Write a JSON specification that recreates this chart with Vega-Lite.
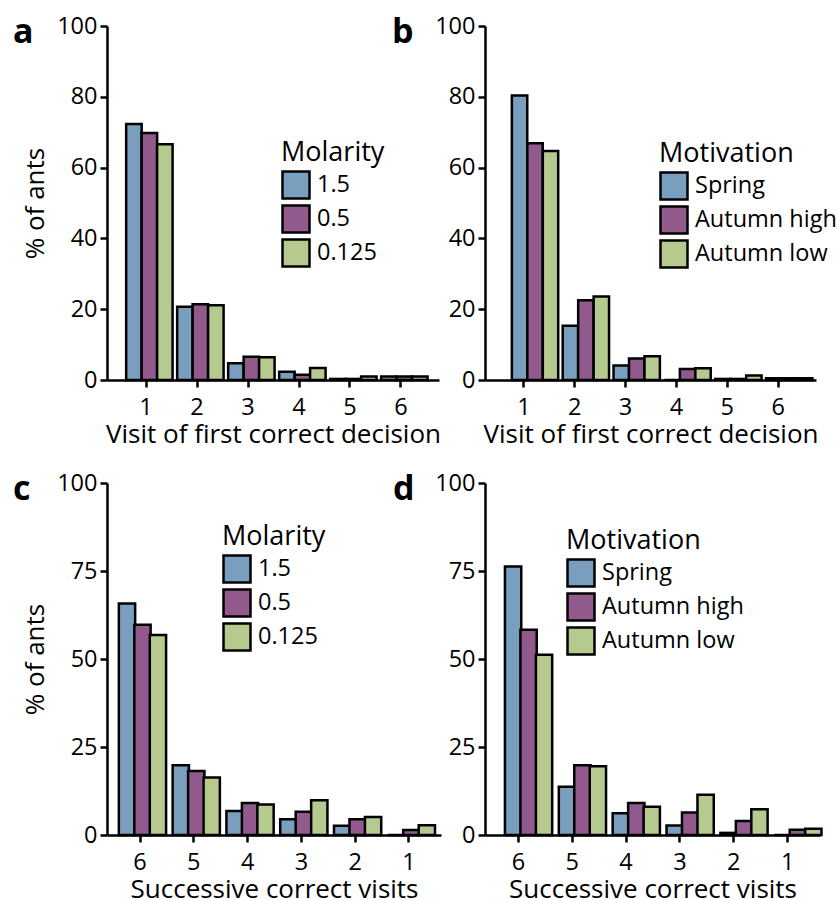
{
  "$schema": "https://vega.github.io/schema/vega-lite/v6.json",
  "background": "white",
  "padding": {"left": 13, "top": 14, "right": 0, "bottom": 0},
  "config": {
    "font": "Open Sans",
    "view": {"stroke": null},
    "axis": {
      "domainColor": "black", "domainWidth": 2.5, "tickColor": "black", "tickWidth": 2.5, "tickSize": 7,
      "labelColor": "black", "labelFontSize": 23.5, "labelFont": "Open Sans",
      "titleColor": "black", "titleFontSize": 26, "titleFontWeight": "normal", "titleFont": "Open Sans",
      "grid": false
    },
    "axisX": {"labelPadding": 8, "titlePadding": 3},
    "axisY": {"labelPadding": 3, "titlePadding": 8},
    "legend": {
      "titleFontSize": 27, "titleFontWeight": "normal", "titleColor": "black", "titleFont": "Open Sans",
      "labelFontSize": 23.5, "labelColor": "black", "labelFont": "Open Sans",
      "symbolType": "square", "symbolSize": 729, "symbolStrokeColor": "black", "symbolStrokeWidth": 2.5,
      "symbolOpacity": 1, "labelOffset": 6, "titlePadding": 3, "padding": 0
    },
    "title": {"fontSize": 34, "fontWeight": "bold", "color": "black", "font": "Open Sans"}
  },
  "columns": 2,
  "spacing": {"row": 103, "column": 44},
  "bounds": "flush",
  "resolve": {"scale": {"color": "independent"}},
  "concat": [
    {
      "width": 332, "height": 354,
      "title": {"text": "a", "anchor": "start", "frame": "group", "align": "left", "dx": -94, "dy": 40},
      "data": {"values": [
        {"visit": "1", "group": "1.5", "pct": 72.3}, {"visit": "1", "group": "0.5", "pct": 69.8}, {"visit": "1", "group": "0.125", "pct": 66.6},
        {"visit": "2", "group": "1.5", "pct": 20.7}, {"visit": "2", "group": "0.5", "pct": 21.4}, {"visit": "2", "group": "0.125", "pct": 21.1},
        {"visit": "3", "group": "1.5", "pct": 4.7}, {"visit": "3", "group": "0.5", "pct": 6.6}, {"visit": "3", "group": "0.125", "pct": 6.4},
        {"visit": "4", "group": "1.5", "pct": 2.3}, {"visit": "4", "group": "0.5", "pct": 1.5}, {"visit": "4", "group": "0.125", "pct": 3.4},
        {"visit": "5", "group": "1.5", "pct": 0.3}, {"visit": "5", "group": "0.5", "pct": 0.3}, {"visit": "5", "group": "0.125", "pct": 1.0},
        {"visit": "6", "group": "1.5", "pct": 1.0}, {"visit": "6", "group": "0.5", "pct": 1.0}, {"visit": "6", "group": "0.125", "pct": 1.0}
      ]},
      "mark": {"type": "bar", "stroke": "black", "strokeWidth": 2.5, "width": 15.5},
      "encoding": {
        "x": {"field": "visit", "type": "ordinal", "sort": ["1", "2", "3", "4", "5", "6"],
              "scale": {"paddingInner": 0.09, "paddingOuter": 0.3, "align": 0.753},
              "axis": {"labelAngle": 0, "title": "Visit of first correct decision", "tickOffset": -7.74}},
        "xOffset": {"field": "group", "type": "nominal", "sort": ["1.5", "0.5", "0.125"], "scale": {"paddingInner": 0, "paddingOuter": 0}},
        "y": {"field": "pct", "type": "quantitative", "scale": {"domain": [0, 100]},
              "axis": {"values": [0, 20, 40, 60, 80, 100], "title": "% of ants"}},
        "color": {"field": "group", "type": "nominal", "sort": ["1.5", "0.5", "0.125"],
                  "scale": {"domain": ["1.5", "0.5", "0.125"], "range": ["#7a9ebd", "#925a8c", "#b6c98f"]},
                  "legend": {"orient": "none", "legendX": 174, "legendY": 114, "title": "Molarity", "rowPadding": -13}}
      }
    },
    {
      "width": 331, "height": 354,
      "title": {"text": "b", "anchor": "start", "frame": "group", "align": "left", "dx": -93, "dy": 40},
      "data": {"values": [
        {"visit": "1", "group": "Spring", "pct": 80.4}, {"visit": "1", "group": "Autumn high", "pct": 66.9}, {"visit": "1", "group": "Autumn low", "pct": 64.7},
        {"visit": "2", "group": "Spring", "pct": 15.3}, {"visit": "2", "group": "Autumn high", "pct": 22.5}, {"visit": "2", "group": "Autumn low", "pct": 23.6},
        {"visit": "3", "group": "Spring", "pct": 4.1}, {"visit": "3", "group": "Autumn high", "pct": 6.1}, {"visit": "3", "group": "Autumn low", "pct": 6.7},
        {"visit": "4", "group": "Spring", "pct": 0}, {"visit": "4", "group": "Autumn high", "pct": 3.1}, {"visit": "4", "group": "Autumn low", "pct": 3.3},
        {"visit": "5", "group": "Spring", "pct": 0.3}, {"visit": "5", "group": "Autumn high", "pct": 0.3}, {"visit": "5", "group": "Autumn low", "pct": 1.3},
        {"visit": "6", "group": "Spring", "pct": 0.5}, {"visit": "6", "group": "Autumn high", "pct": 0.5}, {"visit": "6", "group": "Autumn low", "pct": 0.5}
      ]},
      "mark": {"type": "bar", "stroke": "black", "strokeWidth": 2.5, "width": 15.4},
      "encoding": {
        "x": {"field": "visit", "type": "ordinal", "sort": ["1", "2", "3", "4", "5", "6"],
              "scale": {"paddingInner": 0.09, "paddingOuter": 0.3, "align": 0.7525},
              "axis": {"labelAngle": 0, "title": "Visit of first correct decision", "tickOffset": -7.7}},
        "xOffset": {"field": "group", "type": "nominal", "sort": ["Spring", "Autumn high", "Autumn low"], "scale": {"paddingInner": 0, "paddingOuter": 0}},
        "y": {"field": "pct", "type": "quantitative", "scale": {"domain": [0, 100]},
              "axis": {"values": [0, 20, 40, 60, 80, 100], "title": null}},
        "color": {"field": "group", "type": "nominal", "sort": ["Spring", "Autumn high", "Autumn low"],
                  "scale": {"domain": ["Spring", "Autumn high", "Autumn low"], "range": ["#7a9ebd", "#925a8c", "#b6c98f"]},
                  "legend": {"orient": "none", "legendX": 174, "legendY": 115, "title": "Motivation", "rowPadding": -13}}
      }
    },
    {
      "width": 334, "height": 352,
      "title": {"text": "c", "anchor": "start", "frame": "group", "align": "left", "dx": -94, "dy": 40},
      "data": {"values": [
        {"visit": "6", "group": "1.5", "pct": 65.8}, {"visit": "6", "group": "0.5", "pct": 59.7}, {"visit": "6", "group": "0.125", "pct": 56.8},
        {"visit": "5", "group": "1.5", "pct": 19.8}, {"visit": "5", "group": "0.5", "pct": 18.2}, {"visit": "5", "group": "0.125", "pct": 16.3},
        {"visit": "4", "group": "1.5", "pct": 6.8}, {"visit": "4", "group": "0.5", "pct": 9.1}, {"visit": "4", "group": "0.125", "pct": 8.7},
        {"visit": "3", "group": "1.5", "pct": 4.5}, {"visit": "3", "group": "0.5", "pct": 6.6}, {"visit": "3", "group": "0.125", "pct": 9.9},
        {"visit": "2", "group": "1.5", "pct": 2.6}, {"visit": "2", "group": "0.5", "pct": 4.5}, {"visit": "2", "group": "0.125", "pct": 5.1},
        {"visit": "1", "group": "1.5", "pct": 0}, {"visit": "1", "group": "0.5", "pct": 1.4}, {"visit": "1", "group": "0.125", "pct": 2.8}
      ]},
      "mark": {"type": "bar", "stroke": "black", "strokeWidth": 2.5, "width": 16.3},
      "encoding": {
        "x": {"field": "visit", "type": "ordinal", "sort": ["6", "5", "4", "3", "2", "1"],
              "scale": {"paddingInner": 0.09, "paddingOuter": 0.15, "align": 1},
              "axis": {"labelAngle": 0, "title": "Successive correct visits", "tickOffset": -8.07}},
        "xOffset": {"field": "group", "type": "nominal", "sort": ["1.5", "0.5", "0.125"], "scale": {"paddingInner": 0, "paddingOuter": 0}},
        "y": {"field": "pct", "type": "quantitative", "scale": {"domain": [0, 100]},
              "axis": {"values": [0, 25, 50, 75, 100], "title": "% of ants"}},
        "color": {"field": "group", "type": "nominal", "sort": ["1.5", "0.5", "0.125"],
                  "scale": {"domain": ["1.5", "0.5", "0.125"], "range": ["#7a9ebd", "#925a8c", "#b6c98f"]},
                  "legend": {"orient": "none", "legendX": 115, "legendY": 41, "title": "Molarity", "rowPadding": -13}}
      }
    },
    {
      "width": 335, "height": 352,
      "title": {"text": "d", "anchor": "start", "frame": "group", "align": "left", "dx": -92, "dy": 40},
      "data": {"values": [
        {"visit": "6", "group": "Spring", "pct": 76.3}, {"visit": "6", "group": "Autumn high", "pct": 58.3}, {"visit": "6", "group": "Autumn low", "pct": 51.2},
        {"visit": "5", "group": "Spring", "pct": 13.7}, {"visit": "5", "group": "Autumn high", "pct": 19.8}, {"visit": "5", "group": "Autumn low", "pct": 19.5},
        {"visit": "4", "group": "Spring", "pct": 6.2}, {"visit": "4", "group": "Autumn high", "pct": 9.1}, {"visit": "4", "group": "Autumn low", "pct": 8.0},
        {"visit": "3", "group": "Spring", "pct": 2.7}, {"visit": "3", "group": "Autumn high", "pct": 6.4}, {"visit": "3", "group": "Autumn low", "pct": 11.4},
        {"visit": "2", "group": "Spring", "pct": 0.6}, {"visit": "2", "group": "Autumn high", "pct": 4.0}, {"visit": "2", "group": "Autumn low", "pct": 7.3},
        {"visit": "1", "group": "Spring", "pct": 0}, {"visit": "1", "group": "Autumn high", "pct": 1.5}, {"visit": "1", "group": "Autumn low", "pct": 1.8}
      ]},
      "mark": {"type": "bar", "stroke": "black", "strokeWidth": 2.5, "width": 16.3},
      "encoding": {
        "x": {"field": "visit", "type": "ordinal", "sort": ["6", "5", "4", "3", "2", "1"],
              "scale": {"paddingInner": 0.09, "paddingOuter": 0.155, "align": 0.988},
              "axis": {"labelAngle": 0, "title": "Successive correct visits", "tickOffset": -8.15}},
        "xOffset": {"field": "group", "type": "nominal", "sort": ["Spring", "Autumn high", "Autumn low"], "scale": {"paddingInner": 0, "paddingOuter": 0}},
        "y": {"field": "pct", "type": "quantitative", "scale": {"domain": [0, 100]},
              "axis": {"values": [0, 25, 50, 75, 100], "title": null}},
        "color": {"field": "group", "type": "nominal", "sort": ["Spring", "Autumn high", "Autumn low"],
                  "scale": {"domain": ["Spring", "Autumn high", "Autumn low"], "range": ["#7a9ebd", "#925a8c", "#b6c98f"]},
                  "legend": {"orient": "none", "legendX": 81, "legendY": 45, "title": "Motivation", "rowPadding": -13}}
      }
    }
  ]
}
